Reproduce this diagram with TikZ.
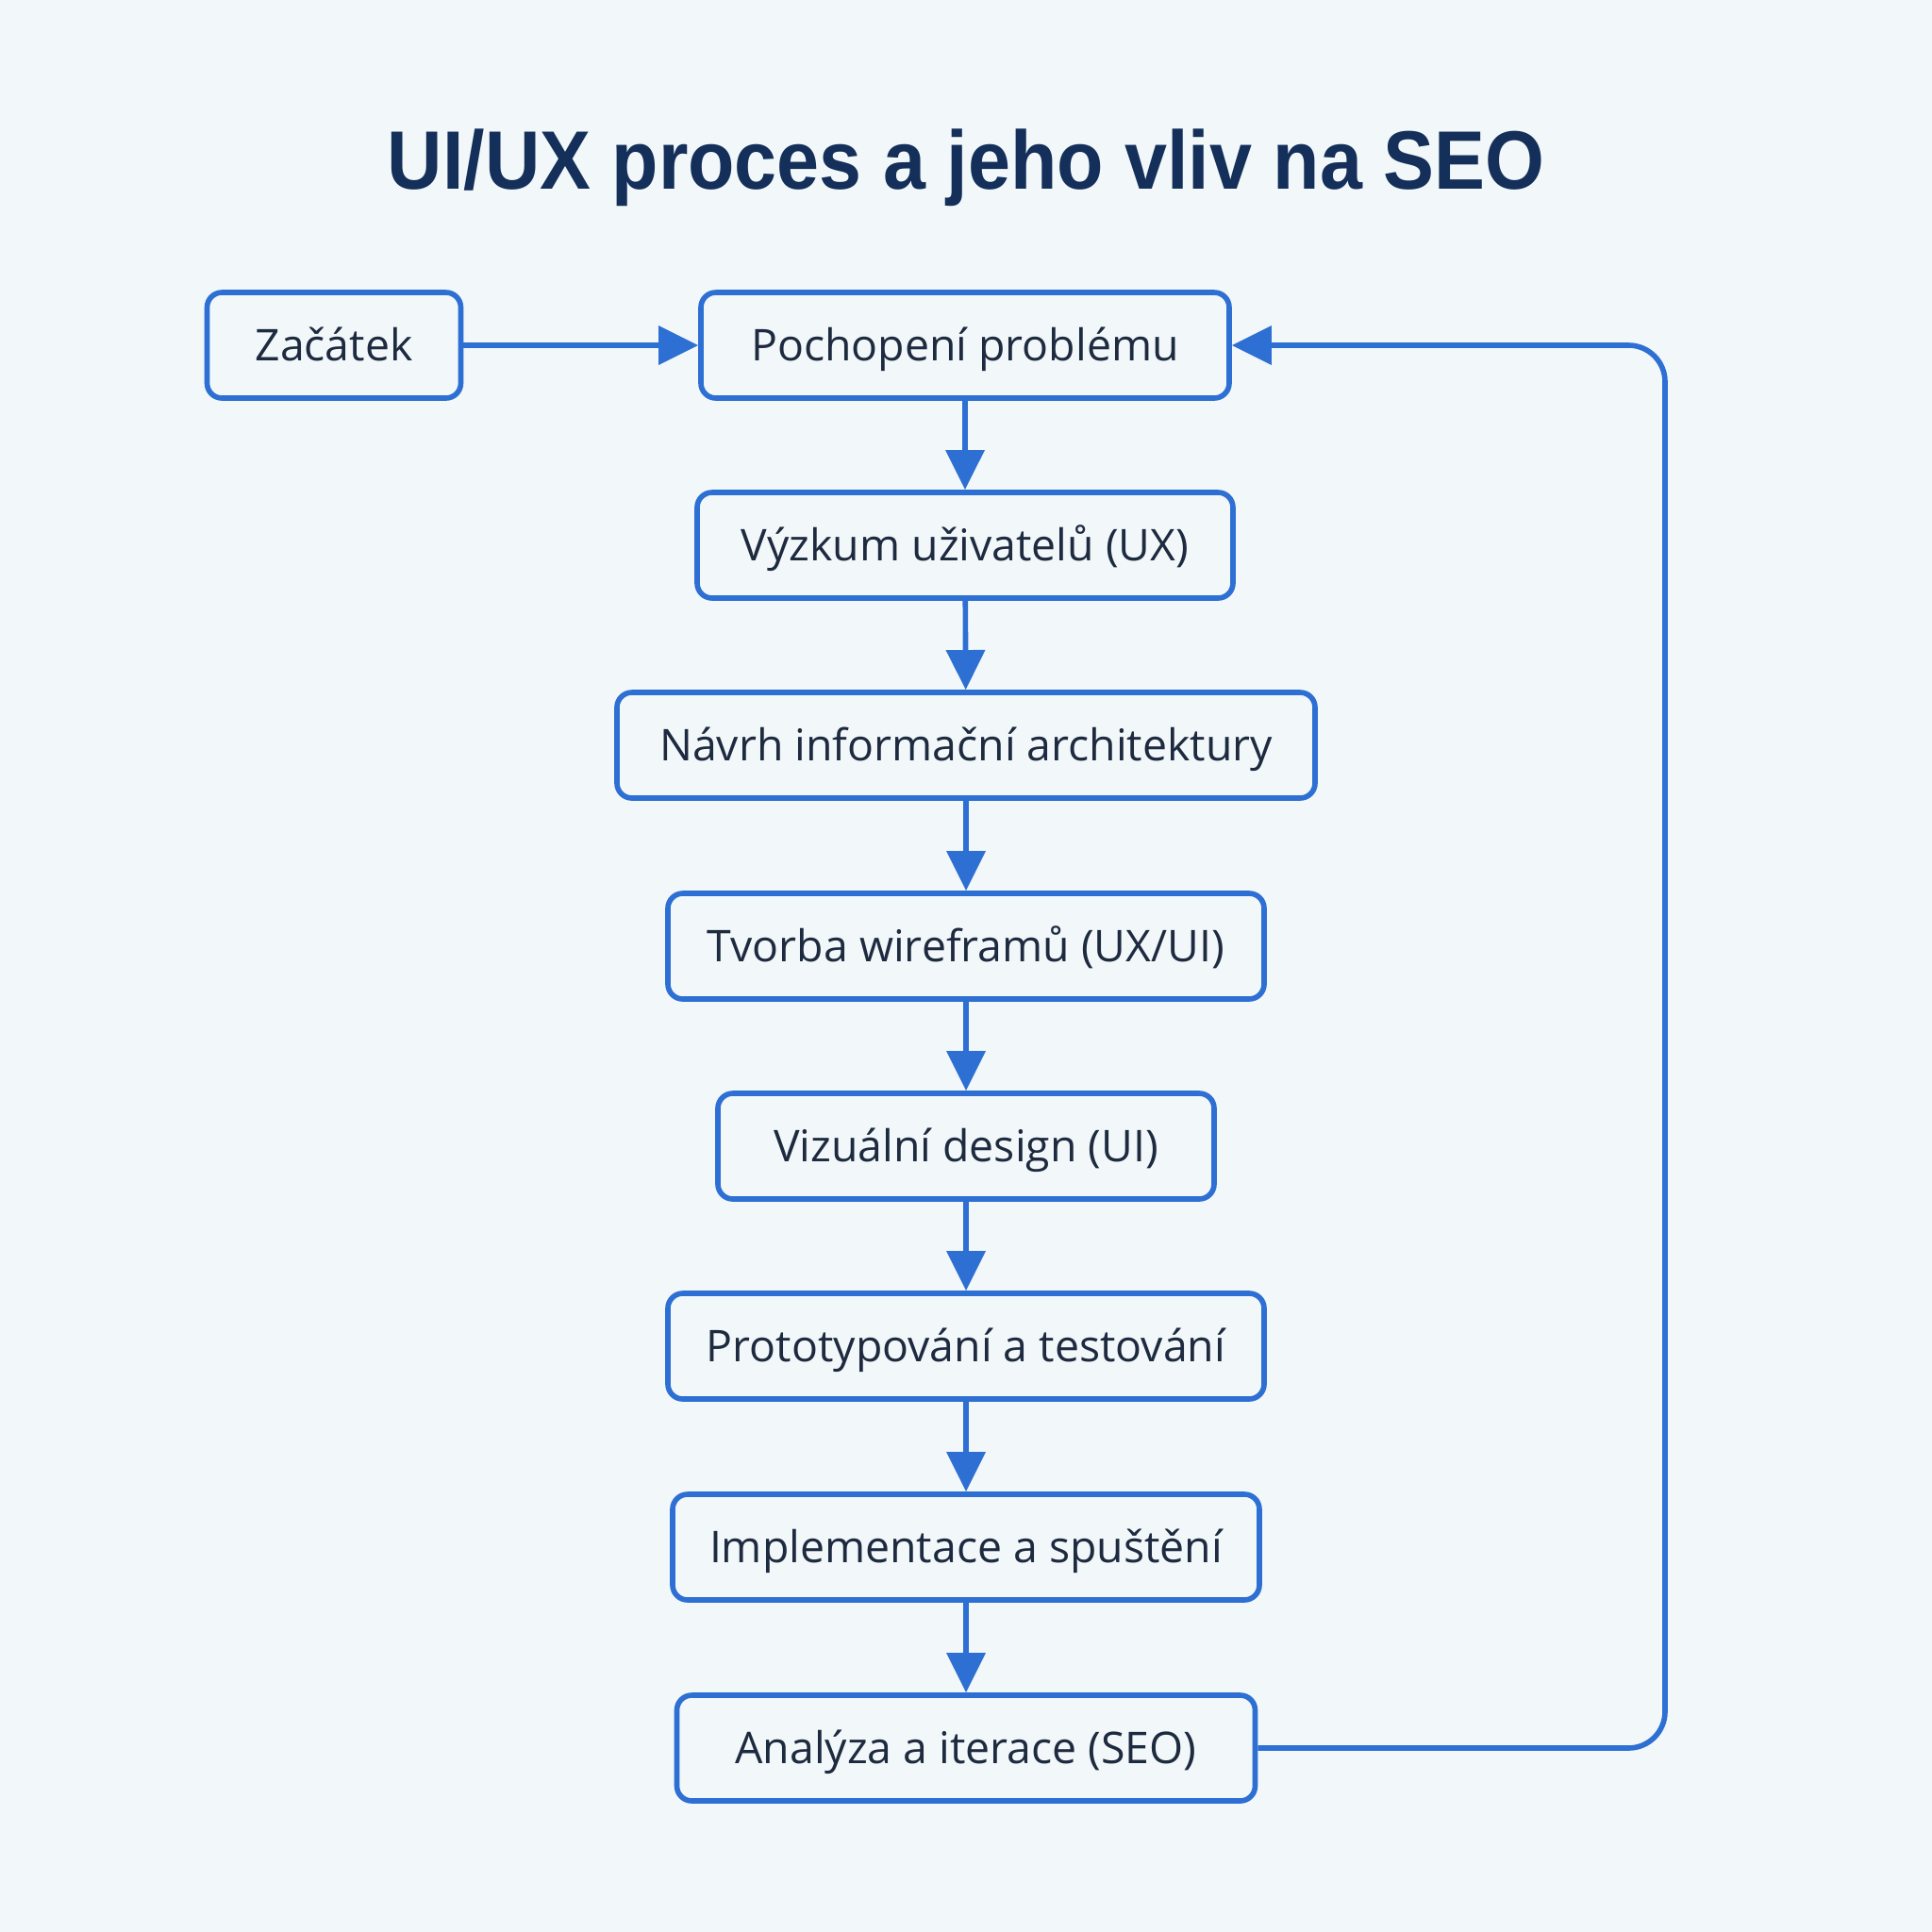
\documentclass[tikz,border=0pt]{standalone}
\usepackage{fontspec}
\setmainfont{Open Sans}
\newfontfamily\headfont[FakeStretch=0.92]{Liberation Sans}
\usepackage{tikz}
\usetikzlibrary{arrows.meta,calc,positioning}
\usepackage{xcolor}
\definecolor{uxbg}{HTML}{F2F7F9}
\definecolor{uxblue}{HTML}{2E6FD3}
\definecolor{uxtext}{HTML}{1D2A3F}
\definecolor{uxtitle}{HTML}{142F5A}

\begin{document}
\begin{tikzpicture}[
  box/.style={draw=uxblue, line width=1.6pt, rounded corners=4.5pt, fill=uxbg, minimum height=1.12cm, inner sep=2pt, text height=12.2pt, text depth=3pt, text=uxtext, font=\fontsize{13.2}{16}\selectfont},
  arr/.style={-{Triangle[length=12pt, width=11.5pt]}, line width=1.6pt, draw=uxblue}
]
  \fill[uxbg] (0,0) rectangle (20.48,-20.48);
  \useasboundingbox (0,0) rectangle (20.48,-20.48);

  \node[anchor=base, font=\headfont\bfseries\fontsize{25}{30}\selectfont, text=uxtitle] (title) at (10.24,-2.00) {UI/UX proces a jeho vliv na SEO};

  \node[box, minimum width=2.69cm] (start) at (3.54,-3.66) {Začátek};
  \node[box, minimum width=5.60cm] (problem) at (10.23,-3.66) {Pochopení problému};
  \node[box, minimum width=5.68cm] (research) at (10.23,-5.78) {Výzkum uživatelů (UX)};
  \node[box, minimum width=7.40cm] (infoarch) at (10.24,-7.90) {Návrh informační architektury};
  \node[box, minimum width=6.32cm] (wire) at (10.24,-10.03) {Tvorba wireframů (UX/UI)};
  \node[box, minimum width=5.26cm] (visual) at (10.24,-12.15) {Vizuální design (UI)};
  \node[box, minimum width=6.32cm] (proto) at (10.24,-14.27) {Prototypování a testování};
  \node[box, minimum width=6.22cm] (launch) at (10.24,-16.40) {Implementace a spuštění};
  \node[box, minimum width=6.13cm] (seo) at (10.24,-18.53) {Analýza a iterace (SEO)};

  \draw[arr] (start) -- (problem);
  \draw[arr] (problem) -- (research);
  \draw[arr] (research) -- (infoarch);
  \draw[arr] (infoarch) -- (wire);
  \draw[arr] (wire) -- (visual);
  \draw[arr] (visual) -- (proto);
  \draw[arr] (proto) -- (launch);
  \draw[arr] (launch) -- (seo);

  % feedback loop back to the top
  \coordinate (loopx) at (17.65,0);
  \draw[arr, rounded corners=11pt] (seo.east) -- (seo.east -| loopx) -- (problem.east -| loopx) -- (problem.east);
\end{tikzpicture}
\end{document}
